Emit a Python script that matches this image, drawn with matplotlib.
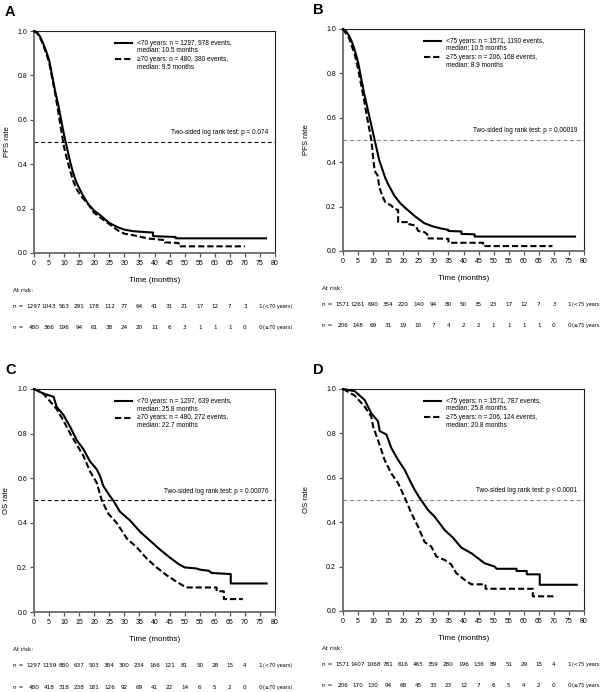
import matplotlib
matplotlib.use("Agg")
import matplotlib.pyplot as plt
from matplotlib import font_manager
from matplotlib.lines import Line2D

plt.rcParams['font.family'] = ['Liberation Sans', 'DejaVu Sans']

# --- Kaplan-Meier curves (time in months, survival) ---
a_young_t = [0, 1, 2, 3, 4, 5, 6, 7, 8, 9, 10, 11, 12, 13, 14, 16, 18, 20, 22, 25, 28, 30, 33, 36, 39.5, 39.5, 47, 47, 77]
a_young_s = [1.0, 0.995, 0.975, 0.945, 0.91, 0.87, 0.80, 0.73, 0.67, 0.60, 0.53, 0.47, 0.41, 0.36, 0.32, 0.265, 0.22, 0.19, 0.17, 0.135, 0.115, 0.105, 0.098, 0.095, 0.092, 0.076, 0.072, 0.066, 0.066]
a_old_t = [0, 1, 2, 3, 4, 5, 6, 7, 8, 9, 10, 11, 12, 13, 14, 16, 18, 20, 22, 25, 28, 30, 33, 38, 43.5, 43.5, 48, 48, 70]
a_old_s = [1.0, 0.99, 0.97, 0.94, 0.90, 0.86, 0.79, 0.72, 0.64, 0.555, 0.475, 0.42, 0.37, 0.325, 0.29, 0.25, 0.22, 0.18, 0.16, 0.13, 0.10, 0.087, 0.08, 0.065, 0.058, 0.048, 0.045, 0.03, 0.03]

b_young_t = [0, 1, 2, 3, 4, 5, 6, 7, 8, 9, 10, 11, 12, 13, 14, 15, 17, 19, 21, 24, 27, 30, 33, 35, 35, 39.3, 39.3, 43.7, 43.7, 77]
b_young_s = [1.0, 0.99, 0.97, 0.94, 0.90, 0.85, 0.78, 0.71, 0.65, 0.59, 0.53, 0.47, 0.41, 0.37, 0.33, 0.30, 0.25, 0.215, 0.19, 0.155, 0.125, 0.11, 0.10, 0.095, 0.09, 0.088, 0.077, 0.075, 0.065, 0.065]
b_old_t = [0, 1, 2, 3, 4, 5, 6, 7, 8, 9, 9.5, 10, 10.5, 11.5, 12, 13, 14, 16, 17, 18.3, 18.3, 22, 22, 24, 25, 27, 28, 28, 35, 35, 46.5, 46.5, 69.5]
b_old_s = [1.0, 0.98, 0.96, 0.92, 0.88, 0.82, 0.75, 0.68, 0.60, 0.53, 0.49, 0.42, 0.36, 0.34, 0.29, 0.25, 0.22, 0.205, 0.19, 0.185, 0.13, 0.13, 0.12, 0.115, 0.09, 0.085, 0.075, 0.057, 0.055, 0.037, 0.037, 0.022, 0.022]

c_young_t = [0, 3, 6.5, 7.5, 9.7, 12, 14.2, 16.4, 18.6, 20.8, 21.9, 23, 25.2, 26.3, 28.5, 31.9, 35.2, 38.5, 41.8, 45, 48, 50, 54, 55, 58, 59, 65.3, 65.3, 77.2]
c_young_s = [1.0, 0.98, 0.965, 0.92, 0.885, 0.83, 0.77, 0.73, 0.675, 0.64, 0.61, 0.565, 0.52, 0.50, 0.45, 0.41, 0.36, 0.32, 0.28, 0.245, 0.215, 0.20, 0.195, 0.19, 0.185, 0.175, 0.17, 0.128, 0.128]
c_old_t = [0, 3, 5, 7.5, 9.7, 12, 14.2, 16.4, 18.6, 20.8, 22.5, 24.7, 27.4, 30.8, 34.1, 37.4, 40.7, 44, 47.4, 50.5, 60.6, 60.6, 63, 63, 69.3]
c_old_s = [1.0, 0.98, 0.95, 0.91, 0.86, 0.80, 0.75, 0.70, 0.63, 0.58, 0.50, 0.44, 0.40, 0.33, 0.29, 0.24, 0.20, 0.165, 0.135, 0.11, 0.11, 0.093, 0.093, 0.058, 0.058]

d_young_t = [0, 3.9, 7.2, 9.4, 11.6, 12.2, 14.4, 16, 18.3, 20.5, 22.1, 23.8, 25.4, 28.2, 30.4, 33.7, 36.5, 39.3, 42.6, 47, 50.3, 51, 57.6, 57.6, 61, 61, 65.3, 65.3, 77.6]
d_young_s = [1.0, 0.99, 0.95, 0.89, 0.855, 0.81, 0.795, 0.735, 0.68, 0.635, 0.59, 0.545, 0.51, 0.455, 0.425, 0.365, 0.33, 0.285, 0.26, 0.215, 0.20, 0.19, 0.19, 0.18, 0.18, 0.165, 0.165, 0.118, 0.118]
d_old_t = [0, 3.9, 7.2, 9.4, 10, 11.6, 13.8, 16, 18.3, 20.5, 22.7, 24.9, 27.1, 29.3, 31, 33.7, 35.9, 37.6, 40.4, 42.6, 47.3, 47.3, 63, 63, 70]
d_old_s = [1.0, 0.97, 0.92, 0.875, 0.83, 0.77, 0.68, 0.62, 0.575, 0.51, 0.44, 0.38, 0.31, 0.29, 0.245, 0.23, 0.21, 0.17, 0.14, 0.12, 0.12, 0.10, 0.10, 0.066, 0.066]

# --- numbers at risk, every 5 months from 0 to 75 ---
a_risk_young = [1297, 1043, 563, 291, 178, 112, 77, 64, 41, 31, 21, 17, 12, 7, 3, 1]
a_risk_old = [480, 366, 196, 94, 61, 38, 24, 20, 11, 6, 3, 1, 1, 1, 0, 0]
b_risk_young = [1571, 1261, 690, 354, 220, 140, 94, 80, 50, 35, 23, 17, 12, 7, 3, 1]
b_risk_old = [206, 148, 69, 31, 19, 10, 7, 4, 2, 2, 1, 1, 1, 1, 0, 0]
c_risk_young = [1297, 1159, 880, 637, 503, 384, 300, 234, 166, 121, 81, 50, 28, 15, 4, 1]
c_risk_old = [480, 418, 318, 238, 181, 126, 92, 69, 41, 22, 14, 6, 5, 2, 0, 0]
d_risk_young = [1571, 1407, 1068, 781, 616, 465, 359, 280, 196, 136, 89, 51, 29, 15, 4, 1]
d_risk_old = [206, 170, 130, 94, 68, 45, 33, 23, 12, 7, 6, 5, 4, 2, 0, 0]
risk_times = list(range(0, 80, 5))

# --- labels ---
panel_letters = ["A", "B", "C", "D"]
y_labels = ["PFS rate", "PFS rate", "OS rate", "OS rate"]
cutoffs = ["70", "75", "70", "75"]
legend_young = ["<70 years: n = 1297, 978 events,", "<75 years: n = 1571, 1190 events,",
                "<70 years: n = 1297, 639 events,", "<75 years: n = 1571, 787 events,"]
legend_old = ["\u226570 years: n = 480, 380 events,", "\u226575 years: n = 206, 168 events,",
              "\u226570 years: n = 480, 272 events,", "\u226575 years: n = 206, 124 events,"]
median_young = ["median: 10.5 months", "median: 10.5 months", "median: 25.8 months", "median: 25.8 months"]
median_old = ["median: 9.5 months", "median: 8.9 months", "median: 22.7 months", "median: 20.8 months"]
p_texts = ["p = 0.074", "p = 0.00019", "p = 0.00076", "p < 0.0001"]

curves = [(a_young_t, a_young_s, a_old_t, a_old_s), (b_young_t, b_young_s, b_old_t, b_old_s),
          (c_young_t, c_young_s, c_old_t, c_old_s), (d_young_t, d_young_s, d_old_t, d_old_s)]
risks = [(a_risk_young, a_risk_old), (b_risk_young, b_risk_old),
         (c_risk_young, c_risk_old), (d_risk_young, d_risk_old)]

# the at-risk table uses a condensed face in the original; use one if installed
fonts = font_manager.fontManager.ttflist
if any(f.name == "Liberation Sans Narrow" for f in fonts):
    risk_font = dict(family=["Liberation Sans Narrow", "DejaVu Sans"], fontsize=5.2)
elif any(f.name == "DejaVu Sans" and f.stretch == "condensed" for f in fonts):
    risk_font = dict(family=["DejaVu Sans"], fontstretch="condensed", fontsize=4.6)
else:
    risk_font = dict(family=["Liberation Sans", "DejaVu Sans"], fontsize=4.4)
grp_font = dict(risk_font)
grp_font["fontsize"] = risk_font["fontsize"] * 0.86

fig = plt.figure(figsize=(6, 6.92), dpi=100)

# axes boxes in figure fractions (left, bottom, width, height)
boxes = [(0.0567, 0.6344, 0.4017, 0.3208), (0.5717, 0.6373, 0.4017, 0.3208),
         (0.0567, 0.1156, 0.4017, 0.3223), (0.5717, 0.1171, 0.4017, 0.3208)]
ylabel_x = [-0.11, -0.15, -0.115, -0.15]
median_line_col = ["black", "#8a8a8a", "black", "#8a8a8a"]

for i in range(4):
    ax = fig.add_axes(boxes[i])
    yt, ys, ot, os_ = curves[i]
    ax.plot(yt, ys, color="black", lw=1.5, clip_on=False, zorder=3)
    ax.plot(ot, os_, color="black", lw=1.5, dashes=(3.0, 1.4), clip_on=False, zorder=3)
    ax.axhline(0.5, color=median_line_col[i], lw=0.8, dashes=(3.5, 2.5), zorder=1)

    ax.set_xlim(0, 80)
    ax.set_ylim(0, 1)
    ax.set_xticks(range(0, 81, 5))
    ax.set_yticks([0, 0.2, 0.4, 0.6, 0.8, 1.0])
    ax.set_yticklabels(["0.0", "0.2", "0.4", "0.6", "0.8", "1.0"])
    ax.tick_params(direction="out", length=3, width=0.9, color="#555555",
                   labelsize=5, pad=2)
    for side in ["left", "bottom"]:
        ax.spines[side].set_color("#6a6a6a")
        ax.spines[side].set_linewidth(1.3)
    for side in ["top", "right"]:
        ax.spines[side].set_color("#222222")
        ax.spines[side].set_linewidth(0.8)

    ax.text(ylabel_x[i], 0.5, y_labels[i], transform=ax.transAxes, rotation=90,
            ha="center", va="center", fontsize=5.6)
    ax.text(40, -0.122, "Time (months)", transform=ax.get_xaxis_transform(),
            ha="center", va="center", fontsize=5.8)

    # panel letter
    ax.text(-0.12 if i % 2 == 0 else -0.125, 1.085, panel_letters[i], transform=ax.transAxes,
            ha="left", va="center", fontsize=10.5, fontweight="bold")

    # legend drawn by hand so the handle sits on the first text line
    for ys_leg, dash in [(0.945, None), (0.872, (3.0, 1.4))]:
        ln = Line2D([27.0, 32.5], [ys_leg, ys_leg], color="black", lw=1.5,
                    transform=ax.transData)
        if dash:
            ln.set_dashes(dash)
        ax.add_line(ln)
    ax.text(34.2, 0.945, legend_young[i], fontsize=4.7, va="center", ha="left")
    ax.text(34.2, 0.910, median_young[i], fontsize=4.7, va="center", ha="left")
    ax.text(34.2, 0.872, legend_old[i], fontsize=4.7, va="center", ha="left")
    ax.text(34.2, 0.836, median_old[i], fontsize=4.7, va="center", ha="left")

    ax.text(77.8, 0.542, "Two-sided log rank test: " + p_texts[i], fontsize=4.7,
            ha="right", va="center")

    # numbers at risk
    tr = ax.get_xaxis_transform()
    ry, ro = risks[i]
    ax.text(-7, -0.168, "At risk:", transform=tr, ha="left", va="center", **risk_font)
    for row_y, vals, grp in [(-0.242, ry, "(<" + cutoffs[i] + " years)"),
                             (-0.337, ro, "(\u2265" + cutoffs[i] + " years)")]:
        ax.text(-7, row_y, "n =", transform=tr, ha="left", va="center", **risk_font)
        for t, v in zip(risk_times, vals):
            ax.text(t, row_y, str(v), transform=tr, ha="center", va="center", **risk_font)
        ax.text(75.9, row_y, grp, transform=tr, ha="left", va="center", **grp_font)

fig.savefig("out.png", dpi=100, facecolor="white")
